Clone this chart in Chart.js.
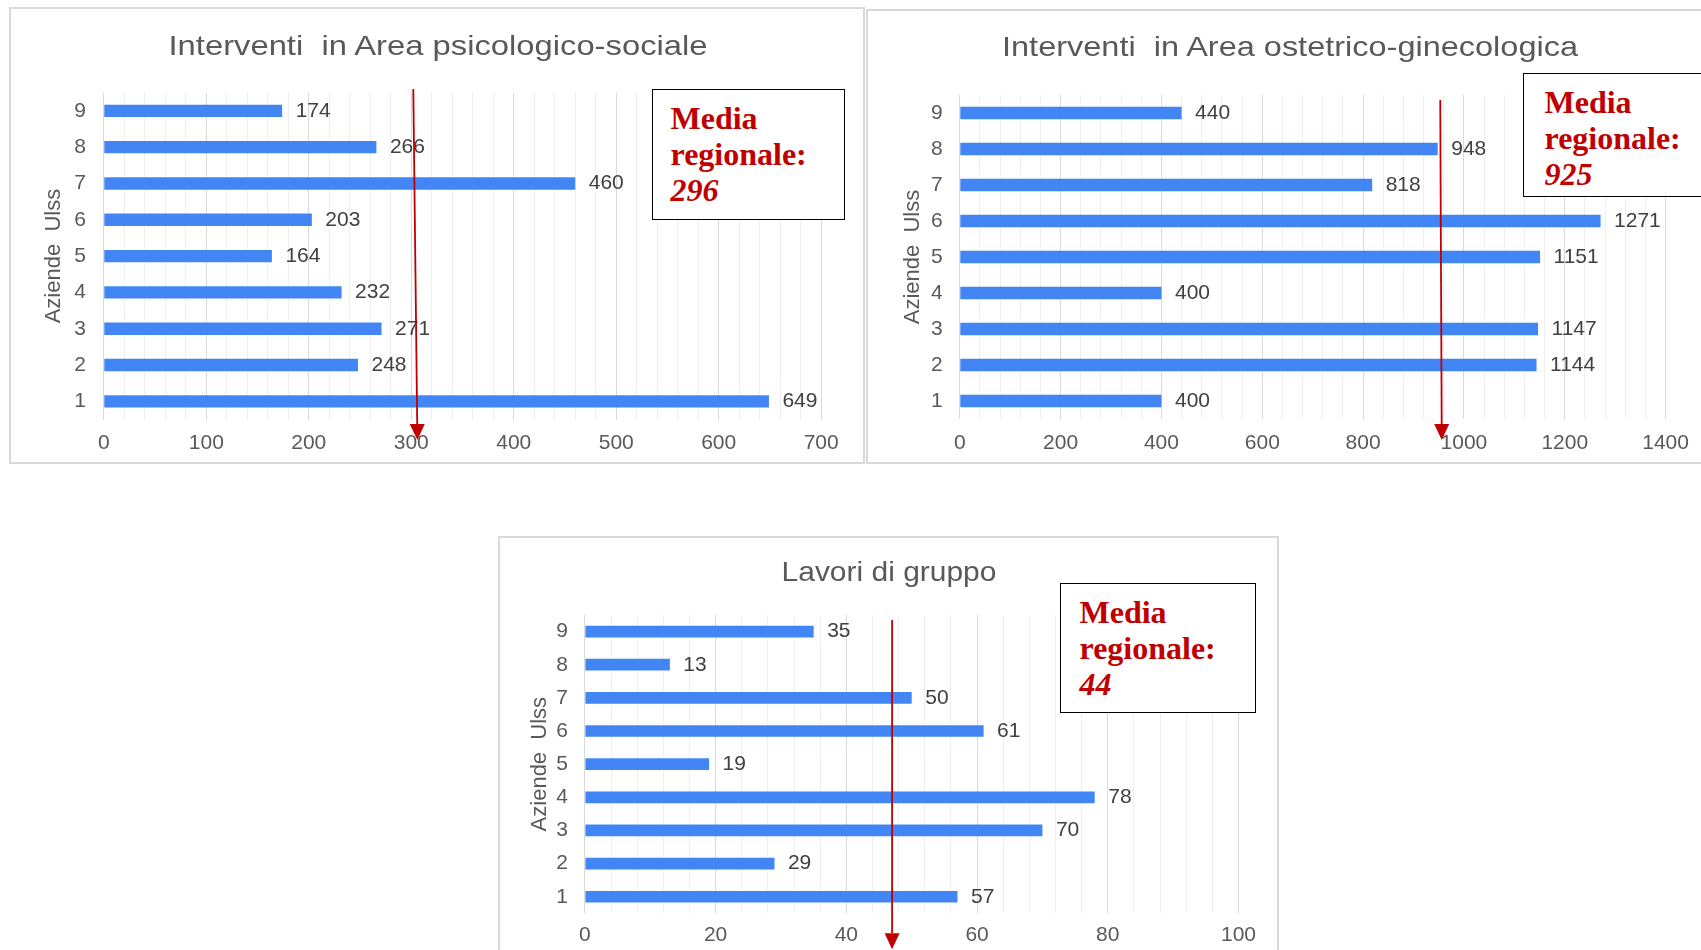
<!DOCTYPE html>
<html>
<head>
<meta charset="utf-8">
<script src="https://cdn.jsdelivr.net/npm/chart.js@4.4.1/dist/chart.umd.min.js"></script>
<style>
  html, body { margin: 0; padding: 0; background: #fff; }
  body { position: relative; width: 1701px; height: 950px; overflow: hidden; font-family: "Liberation Sans", Arial, sans-serif; }
  .panel { position: absolute; border: 2px solid #d9d9d9; box-sizing: border-box; background: #fff; }
  canvas { position: absolute; }
  .titolo { position: absolute; width: 700px; text-align: center; font-size: 28px; line-height: 28px; color: #595959; white-space: pre; transform-origin: center; }
  .media { position: absolute; box-sizing: border-box; border: 1.5px solid #000; background: #fff; font-family: "Liberation Serif", "Times New Roman", serif; font-weight: bold; font-size: 32px; line-height: 36px; color: #c00000; padding-top: 9.7px; }
</style>
</head>
<body>
<div class="panel" style="left:9px;top:7px;width:856px;height:457px"></div>
<div class="panel" style="left:866px;top:9px;width:900px;height:455px"></div>
<div class="panel" style="left:498px;top:536px;width:781px;height:500px"></div>

<canvas id="c1" width="856" height="457" style="left:9px;top:7px"></canvas>
<canvas id="c2" width="835" height="455" style="left:866px;top:9px"></canvas>
<canvas id="c3" width="781" height="414" style="left:498px;top:536px"></canvas>

<div class="titolo" style="left:88px;top:32px;transform:scaleX(1.17)">Interventi  in Area psicologico-sociale</div>
<div class="titolo" style="left:940px;top:33px;transform:scaleX(1.16)">Interventi  in Area ostetrico-ginecologica</div>
<div class="titolo" style="left:539px;top:558px;transform:scaleX(1.07)">Lavori di gruppo</div>

<div class="media" id="m1" style="left:652px;top:89px;width:193px;height:131px;padding-left:17.5px"></div>
<div class="media" id="m2" style="left:1523px;top:73px;width:250px;height:124px;padding-left:20.5px"></div>
<div class="media" id="m3" style="left:1060px;top:583px;width:196px;height:130px;padding-left:18.5px"></div>

<script>
// dati
const aziende = ['1', '2', '3', '4', '5', '6', '7', '8', '9'];
const psicologico = [649, 248, 271, 232, 164, 203, 460, 266, 174];
const ostetrico = [400, 1144, 1147, 400, 1151, 1271, 818, 948, 440];
const gruppo = [57, 29, 70, 78, 19, 61, 50, 13, 35];

const tickPsicologico = [0, 100, 200, 300, 400, 500, 600, 700];
const tickOstetrico = [0, 200, 400, 600, 800, 1000, 1200, 1400];
const tickGruppo = [0, 20, 40, 60, 80, 100];

const medie = [296, 925, 44];
// posizione della freccia rossa (valore in alto, valore in basso)
const frecciaPsicologico = [302, 306];
const frecciaOstetrico = [953, 956];
const frecciaGruppo = [47, 47];

Chart.defaults.font.family = '"Liberation Sans", Arial, sans-serif';

// etichette dei valori a destra delle barre
const etichette = {
  id: 'etichette',
  afterDatasetsDraw(chart) {
    const ctx = chart.ctx;
    const meta = chart.getDatasetMeta(0);
    const valori = chart.data.datasets[0].data;
    ctx.save();
    ctx.font = '21px "Liberation Sans", Arial, sans-serif';
    ctx.fillStyle = '#404040';
    ctx.textAlign = 'left';
    ctx.textBaseline = 'middle';
    meta.data.forEach(function(bar, i) {
      ctx.fillText(valori[i], bar.x + 13.5, bar.y);
    });
    ctx.restore();
  }
};

// freccia della media regionale
const freccia = {
  id: 'freccia',
  afterDraw(chart, args, opts) {
    const ctx = chart.ctx;
    const area = chart.chartArea;
    const x0 = chart.scales.x.getPixelForValue(opts.valori[0]);
    const x1 = chart.scales.x.getPixelForValue(opts.valori[1]);
    const y0 = area.top + opts.sopra;
    const y1 = area.bottom + opts.sotto;
    const dx = x1 - x0, dy = y1 - y0, len = Math.hypot(dx, dy);
    const ux = dx / len, uy = dy / len;
    const head = 16, half = 7.5;
    const bx = x1 - ux * head, by = y1 - uy * head;
    ctx.save();
    ctx.strokeStyle = '#c00000';
    ctx.fillStyle = '#c00000';
    ctx.lineWidth = 1.8;
    ctx.beginPath();
    ctx.moveTo(x0, y0);
    ctx.lineTo(bx, by);
    ctx.stroke();
    ctx.beginPath();
    ctx.moveTo(x1, y1);
    ctx.lineTo(bx - uy * half, by + ux * half);
    ctx.lineTo(bx + uy * half, by - ux * half);
    ctx.closePath();
    ctx.fill();
    ctx.restore();
  }
};

function creaGrafico(id, valori, tickLabels, passo, frecciaValori, geo) {
  const ctx = document.getElementById(id);
  return new Chart(ctx, {
    type: 'bar',
    data: {
      labels: aziende,
      datasets: [{
        data: valori,
        backgroundColor: '#4285f4',
        barPercentage: geo.bar,
        categoryPercentage: 1
      }]
    },
    options: {
      indexAxis: 'y',
      responsive: false,
      animation: false,
      layout: { padding: { left: 0, top: geo.top, right: geo.right, bottom: 0 } },
      plugins: {
        legend: { display: false },
        tooltip: { enabled: false },
        freccia: { valori: frecciaValori, sopra: geo.sopra, sotto: geo.sotto }
      },
      scales: {
        x: {
          min: 0,
          max: tickLabels[tickLabels.length - 1],
          ticks: {
            stepSize: passo,
            autoSkip: false,
            maxRotation: 0,
            padding: geo.xPad,
            color: '#595959',
            font: { size: 21 },
            callback: function(v) { return tickLabels.includes(v) ? v : ''; }
          },
          grid: {
            drawTicks: false,
            color: function(c) { return c.tick && tickLabels.includes(c.tick.value) ? '#d9d9d9' : '#efefef'; }
          },
          border: { display: false },
          afterFit: function(s) { s.height = geo.bottom; }
        },
        y: {
          reverse: true,
          ticks: { padding: geo.yPad, color: '#595959', font: { size: 21 } },
          grid: { display: false, drawTicks: false },
          border: { display: false },
          title: {
            display: true,
            text: 'Aziende  Ulss',
            color: '#595959',
            font: { size: 22 },
            padding: { top: geo.titleX - 13.2, bottom: 0 }
          },
          afterFit: function(s) { s.width = geo.left; }
        }
      }
    },
    plugins: [etichette, freccia]
  });
}

creaGrafico('c1', psicologico, tickPsicologico, 20, frecciaPsicologico,
  { left: 94.8, right: 43.8, top: 85.7, bottom: 44.5, xPad: 11.2, yPad: 17.8, titleX: 44.8, bar: 0.34, sopra: -3.7, sotto: 20.5 });
creaGrafico('c2', ostetrico, tickOstetrico, 40, frecciaOstetrico,
  { left: 93.8, right: 35.4, top: 86, bottom: 45, xPad: 11.4, yPad: 17.1, titleX: 47, bar: 0.35, sopra: 5, sotto: 21 });
creaGrafico('c3', gruppo, tickGruppo, 4, frecciaGruppo,
  { left: 86.9, right: 40.5, top: 79, bottom: 36.7, xPad: 9.1, yPad: 16.9, titleX: 41.5, bar: 0.353, sopra: 5, sotto: 36 });

['m1', 'm2', 'm3'].forEach(function(id, i) {
  document.getElementById(id).innerHTML = 'Media<br>regionale:<br><i>' + medie[i] + '</i>';
});
</script>
</body>
</html>
